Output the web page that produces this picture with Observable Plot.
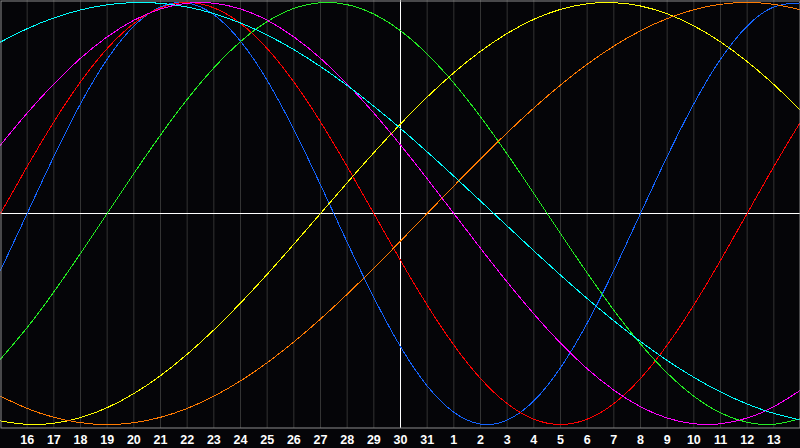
<!DOCTYPE html>
<html><head><meta charset="utf-8">
<script src="https://cdn.jsdelivr.net/npm/d3@7"></script>
<script src="https://cdn.jsdelivr.net/npm/@observablehq/plot@0.6"></script>
<style>
html,body{margin:0;padding:0;background:#050508;}
#chart{width:800px;height:448px;overflow:hidden;}
</style></head><body><div id="chart"></div>
<script>
// day-of-month labels for each day column (15 .. 31, 1 .. 14)
const dates = [15,16,17,18,19,20,21,22,23,24,25,26,27,28,29,30,31,1,2,3,4,5,6,7,8,9,10,11,12,13,14];

// cycle values read per day (-1 .. 1)
const physical = [-0.270,0,0.270,0.520,0.731,0.888,0.979,0.998,0.942,0.817,0.631,0.398,0.136,-0.136,-0.398,-0.631,-0.817,-0.942,-0.998,-0.979,-0.888,-0.731,-0.520,-0.270,0,0.270,0.520,0.731,0.888,0.979,0.998];
const emotional = [0,0.2225,0.4339,0.6235,0.7818,0.9010,0.9749,1,0.9749,0.9010,0.7818,0.6235,0.4339,0.2225,0,-0.2225,-0.4339,-0.6235,-0.7818,-0.9010,-0.9749,-1,-0.9749,-0.9010,-0.7818,-0.6235,-0.4339,-0.2225,0,0.2225,0.4339];
const intellectual = [-0.6901,-0.5406,-0.3717,-0.1893,0,0.1893,0.3717,0.5406,0.6901,0.8146,0.9096,0.9718,0.9989,0.9898,0.9450,0.8660,0.7557,0.6182,0.4582,0.2817,0.0951,-0.0951,-0.2817,-0.4582,-0.6182,-0.7557,-0.8660,-0.9450,-0.9898,-0.9989,-0.9718];
const intuitive = [0.3247,0.4759,0.6142,0.7357,0.8372,0.9158,0.9694,0.9966,0.9966,0.9694,0.9158,0.8372,0.7357,0.6142,0.4759,0.3247,0.1646,0,-0.1646,-0.3247,-0.4759,-0.6142,-0.7357,-0.8372,-0.9158,-0.9694,-0.9966,-0.9966,-0.9694,-0.9158,-0.8372];
const aesthetic = [-0.9834,-0.9993,-0.9940,-0.9675,-0.9203,-0.8535,-0.7686,-0.6673,-0.5517,-0.4245,-0.2881,-0.1456,0,0.1456,0.2881,0.4245,0.5517,0.6673,0.7686,0.8535,0.9203,0.9675,0.9940,0.9993,0.9834,0.9464,0.8893,0.8133,0.7199,0.6112,0.4894];
const awareness = [-0.8660,-0.9239,-0.9659,-0.9914,-1,-0.9914,-0.9659,-0.9239,-0.8660,-0.7934,-0.7071,-0.6088,-0.5,-0.3827,-0.2588,-0.1305,0,0.1305,0.2588,0.3827,0.5,0.6088,0.7071,0.7934,0.8660,0.9239,0.9659,0.9914,1,0.9914,0.9659];
const spiritual = [0.8126,0.8758,0.9267,0.9646,0.9890,0.9996,0.9961,0.9786,0.9473,0.9028,0.8456,0.7765,0.6966,0.6068,0.5085,0.4031,0.2920,0.1769,0.0592,-0.0592,-0.1769,-0.2920,-0.4031,-0.5085,-0.6068,-0.6966,-0.7765,-0.8456,-0.9028,-0.9473,-0.9786];

const seriesNames = ["physical","emotional","intellectual","intuitive","aesthetic","awareness","spiritual"];
const seriesColors = ["#1464ff","#ff0000","#22ee22","#ff00ff","#ffff00","#ff7a00","#00ffff"];
const seriesValues = [physical, emotional, intellectual, intuitive, aesthetic, awareness, spiritual];

const rows = seriesValues.flatMap((vals, s) => vals.map((v, i) => ({i, v, name: seriesNames[s]})));
const tickIdx = d3.range(1, 30);

const chart = Plot.plot({
  width: 800, height: 448,
  marginTop: 0, marginLeft: 0, marginRight: 0, marginBottom: 20,
  style: {background: "#050508", overflow: "visible"},
  x: {domain: [0, 30], range: [0, 800], axis: null},
  y: {domain: [-1, 1], range: [424, 2], axis: null},
  color: {domain: seriesNames, range: seriesColors},
  marks: [
    Plot.ruleX(tickIdx, {stroke: "#333", strokeWidth: 1}),
    Plot.ruleY([0], {stroke: "#fff", strokeWidth: 1}),
    Plot.ruleX([15], {stroke: "#fff", strokeWidth: 1}),
    Plot.line(rows, {x: "i", y: "v", z: "name", stroke: "name", curve: "natural", strokeWidth: 1, shapeRendering: "crispEdges"}),
    Plot.frame({stroke: "#8c8c8c", inset: 0.5}),
    Plot.text(tickIdx, {x: d => d, frameAnchor: "bottom", lineAnchor: "top", dy: 7,
      text: d => String(dates[d]), fill: "#fff", fontSize: 12.5, fontWeight: "bold",
      fontFamily: "Liberation Sans, Arial, sans-serif"})
  ]
});
document.getElementById("chart").append(chart);
</script></body></html>
